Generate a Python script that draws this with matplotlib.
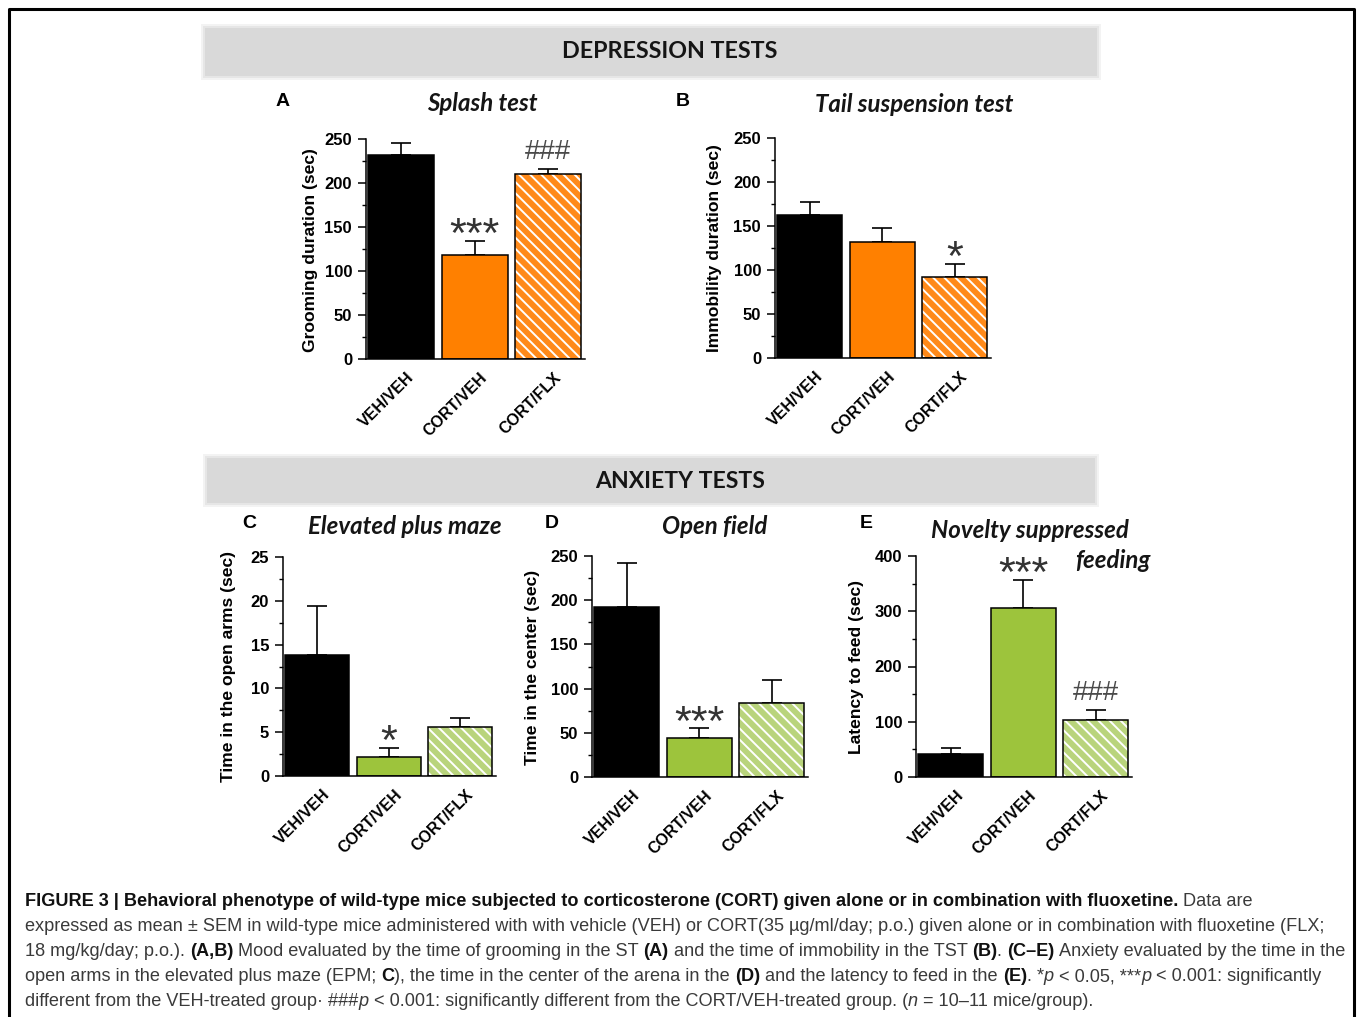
import matplotlib
matplotlib.use("Agg")
import matplotlib.pyplot as plt
from matplotlib import font_manager
from matplotlib.patches import Rectangle
from matplotlib.lines import Line2D
from matplotlib.transforms import ScaledTranslation
from matplotlib.ticker import MultipleLocator

W, H = 1357, 1017

groups = ["VEH/VEH", "CORT/VEH", "CORT/FLX"]

# values (mean, SEM upward)
splash_mean = [232, 118, 210]
splash_sem = [13, 16, 6]
tail_mean = [162, 132, 92]
tail_sem = [15, 16, 15]
epm_mean = [13.8, 2.2, 5.6]
epm_sem = [5.6, 1.0, 1.0]
openfield_mean = [192, 44, 84]
openfield_sem = [50, 11, 26]
nsf_mean = [42, 306, 103]
nsf_sem = [10, 51, 18]

# significance marks (group index, symbol)
splash_marks = [(1, "***"), (2, "###")]
tail_marks = [(2, "*")]
epm_marks = [(1, "*")]
openfield_marks = [(1, "***")]
nsf_marks = [(1, "***"), (2, "###")]

ORANGE = "#ff8000"
ORANGE_H = "#ff8a1a"
GREEN = "#9dc43c"
GREEN_H = "#b9d47c"

plt.rcParams["font.family"] = "Liberation Sans"
plt.rcParams["hatch.linewidth"] = 1.4


def pick_font(cands, style="normal", minw=400):
    for c in cands:
        for f in font_manager.fontManager.ttflist:
            if f.name != c or f.style != style:
                continue
            w = f.weight
            if not isinstance(w, int):
                w = font_manager.weight_dict.get(w, 400)
            if w >= minw:
                return c
    return cands[-1]


title_font = pick_font(["Lato", "Open Sans", "Noto Sans", "DejaVu Sans"], "italic", 600)
banner_font = pick_font(["Lato", "Open Sans", "Noto Sans", "DejaVu Sans"], "normal", 600)
names = {f.name for f in font_manager.fontManager.ttflist}
cap_font = "Liberation Sans Narrow" if "Liberation Sans Narrow" in names else "Liberation Sans"

fig = plt.figure(figsize=(W / 100, H / 100), dpi=100)
fig.patch.set_facecolor("white")
renderer = fig.canvas.get_renderer()


def text_w(s, **kw):
    t = fig.text(0, 0, s, **kw)
    w = t.get_window_extent(renderer).width
    t.remove()
    return w


def fit_size(s, target, **kw):
    return 20 * target / text_w(s, fontsize=20, **kw)


def run_w(s, **kw):
    return text_w("x" + s + "x", **kw) - text_w("xx", **kw)


# frame
fig.add_artist(Line2D([9 / W, 9 / W, 1354 / W, 1354 / W], [0, 1 - 9 / H, 1 - 9 / H, 0],
                      color="black", lw=2.2))


def banner(x0, y0, x1, y1, label, target_w, tx, ty):
    for pad, col in [(4, "#f3f3f3"), (2, "#e6e6e6"), (0, "#d9d9d9")]:
        fig.add_artist(Rectangle(((x0 - pad) / W, 1 - (y1 + pad) / H),
                                 (x1 - x0 + 2 * pad) / W, (y1 - y0 + 2 * pad) / H,
                                 transform=fig.transFigure, color=col, lw=0, zorder=0))
    fs = fit_size(label, target_w, fontweight="bold", family=banner_font)
    fig.text(tx / W, 1 - ty / H, label, ha="center", va="center",
             fontsize=fs, fontweight="bold", family=banner_font, color="#151515")


banner(205, 28, 1097, 76, "DEPRESSION TESTS", 216, 670, 52)
banner(207, 458, 1095, 503, "ANXIETY TESTS", 169, 680, 482)

title_fs = fit_size("Tail suspension test", 198, fontweight="bold", fontstyle="italic", family=title_font)
ylab_fs = fit_size("Grooming duration (sec)", 204, fontweight="bold")


def panel(left, bottom, top, step, means, sems, solid, hatched, ymax, major, minor, marks):
    ax = fig.add_axes([left / W, 1 - bottom / H, 2.98 * step / W, (bottom - top) / H])
    x = [0, 1, 2]
    ax.bar(x[:2], means[:2], 0.9, color=["black", solid], edgecolor="black", linewidth=1.1, zorder=2)
    ax.bar(x[2], means[2], 0.9, color=hatched, edgecolor="white", hatch="\\\\\\", linewidth=0, zorder=2)
    ax.bar(x[2], means[2], 0.9, fill=False, edgecolor="black", linewidth=1.1, zorder=3)
    ax.errorbar(x, means, yerr=[[0, 0, 0], sems], fmt="none", ecolor="black",
                elinewidth=1.2, capsize=7, capthick=1.2, zorder=1)
    ax.set_xlim(-0.48, 2.5)
    ax.set_ylim(0, ymax)
    ax.patch.set_alpha(0)
    for s in ["top", "right"]:
        ax.spines[s].set_visible(False)
    for s in ["left", "bottom"]:
        ax.spines[s].set_linewidth(1.1)
    ax.yaxis.set_major_locator(MultipleLocator(major))
    ax.yaxis.set_minor_locator(MultipleLocator(minor))
    ax.tick_params(axis="y", which="major", length=6, width=1.1, pad=4, labelsize=12)
    ax.tick_params(axis="y", which="minor", length=3, width=1.0)
    ax.tick_params(axis="x", length=0, pad=8)
    for lbl in ax.get_yticklabels():
        lbl.set_fontweight("bold")
    ax.set_xticks(x)
    ax.set_xticklabels(groups, rotation=45, ha="right", va="top", rotation_mode="anchor",
                       fontweight="bold", fontsize=11.5)
    shift = ScaledTranslation(0.05, 0, fig.dpi_scale_trans)
    for lbl in ax.get_xticklabels():
        lbl.set_transform(lbl.get_transform() + shift)
    for i, sym in marks:
        topv = means[i] + sems[i]
        if sym.startswith("*"):
            ax.annotate(sym, (i, topv), xytext=(0, -4.5), textcoords="offset points",
                        ha="center", va="baseline", fontsize=31, color="#333333")
        else:
            ax.annotate(sym, (i, topv), xytext=(0, 7), textcoords="offset points",
                        ha="center", va="baseline", fontsize=20, color="#4a4a4a")
    return ax


panel(366, 359, 139, 73.5, splash_mean, splash_sem, ORANGE, ORANGE_H, 250, 50, 25, splash_marks)
panel(775, 358, 138, 72.5, tail_mean, tail_sem, ORANGE, ORANGE_H, 250, 50, 25, tail_marks)
panel(283, 776, 557, 71.5, epm_mean, epm_sem, GREEN, GREEN_H, 25, 5, 2.5, epm_marks)
panel(592, 777, 556, 72.5, openfield_mean, openfield_sem, GREEN, GREEN_H, 250, 50, 25, openfield_marks)
panel(916, 777, 556, 72.5, nsf_mean, nsf_sem, GREEN, GREEN_H, 400, 100, 50, nsf_marks)

# panel letters, titles, y labels
for letter, x, y in [("A", 283, 101), ("B", 683, 101), ("C", 249, 524), ("D", 552, 524), ("E", 866, 524)]:
    fig.text(x / W, 1 - y / H, letter, ha="center", va="center", fontsize=14, fontweight="bold")

for s, x, y in [("Splash test", 482, 103), ("Tail suspension test", 914, 104),
                ("Elevated plus maze", 405, 526), ("Open field", 715, 527),
                ("Novelty suppressed", 1030, 530), ("feeding", 1113, 560)]:
    fig.text(x / W, 1 - y / H, s, ha="center", va="center", fontsize=title_fs,
             fontweight="bold", fontstyle="italic", family=title_font, color="#151515")

for s, x, y in [("Grooming duration (sec)", 310, 250), ("Immobility duration (sec)", 714, 248),
                ("Time in the open arms (sec)", 229, 667), ("Time in the center (sec)", 533, 667),
                ("Latency to feed (sec)", 857, 667)]:
    fig.text(x / W, 1 - y / H, s, ha="center", va="center", rotation=90,
             fontsize=ylab_fs, fontweight="bold")

# caption
R, B, I = "r", "b", "i"
caption = [
    [("FIGURE 3 | Behavioral phenotype of wild-type mice subjected to corticosterone (CORT) given alone or in combination with fluoxetine.", B),
     (" Data are", R)],
    [("expressed as mean \u00b1 SEM in wild-type mice administered with with vehicle (VEH) or CORT(35 \u00b5g/ml/day; p.o.) given alone or in combination with fluoxetine (FLX;", R)],
    [("18 mg/kg/day; p.o.). ", R), ("(A,B)", B), (" Mood evaluated by the time of grooming in the ST ", R), ("(A)", B),
     (" and the time of immobility in the TST ", R), ("(B)", B), (". ", R), ("(C\u2013E)", B),
     (" Anxiety evaluated by the time in the", R)],
    [("open arms in the elevated plus maze (EPM; ", R), ("C", B), ("), the time in the center of the arena in the ", R),
     ("(D)", B), (" and the latency to feed in the ", R), ("(E)", B), (". *", R), ("p", I), (" < 0.05, ***", R),
     ("p", I), (" < 0.001: significantly", R)],
    [("different from the VEH-treated group\u00b7 ###", R), ("p", I),
     (" < 0.001: significantly different from the CORT/VEH-treated group. (", R), ("n", I),
     (" = 10\u201311 mice/group).", R)],
]


def run_props(kind, fs):
    p = dict(fontsize=fs, family=cap_font)
    if kind == B:
        p.update(fontweight="bold", color="#111111")
    elif kind == I:
        p.update(fontstyle="italic", color="#3a3a3a")
    else:
        p.update(color="#3a3a3a")
    return p


cap_fs = fit_size(caption[1][0][0], 1295, family=cap_font)
for k, line in enumerate(caption):
    x = 25
    yb = 906 + 25 * k
    for s, kind in line:
        p = run_props(kind, cap_fs)
        fig.text(x / W, 1 - yb / H, s, ha="left", va="baseline", **p)
        x += run_w(s, **p)

fig.savefig("out.png", dpi=100, facecolor="white")
